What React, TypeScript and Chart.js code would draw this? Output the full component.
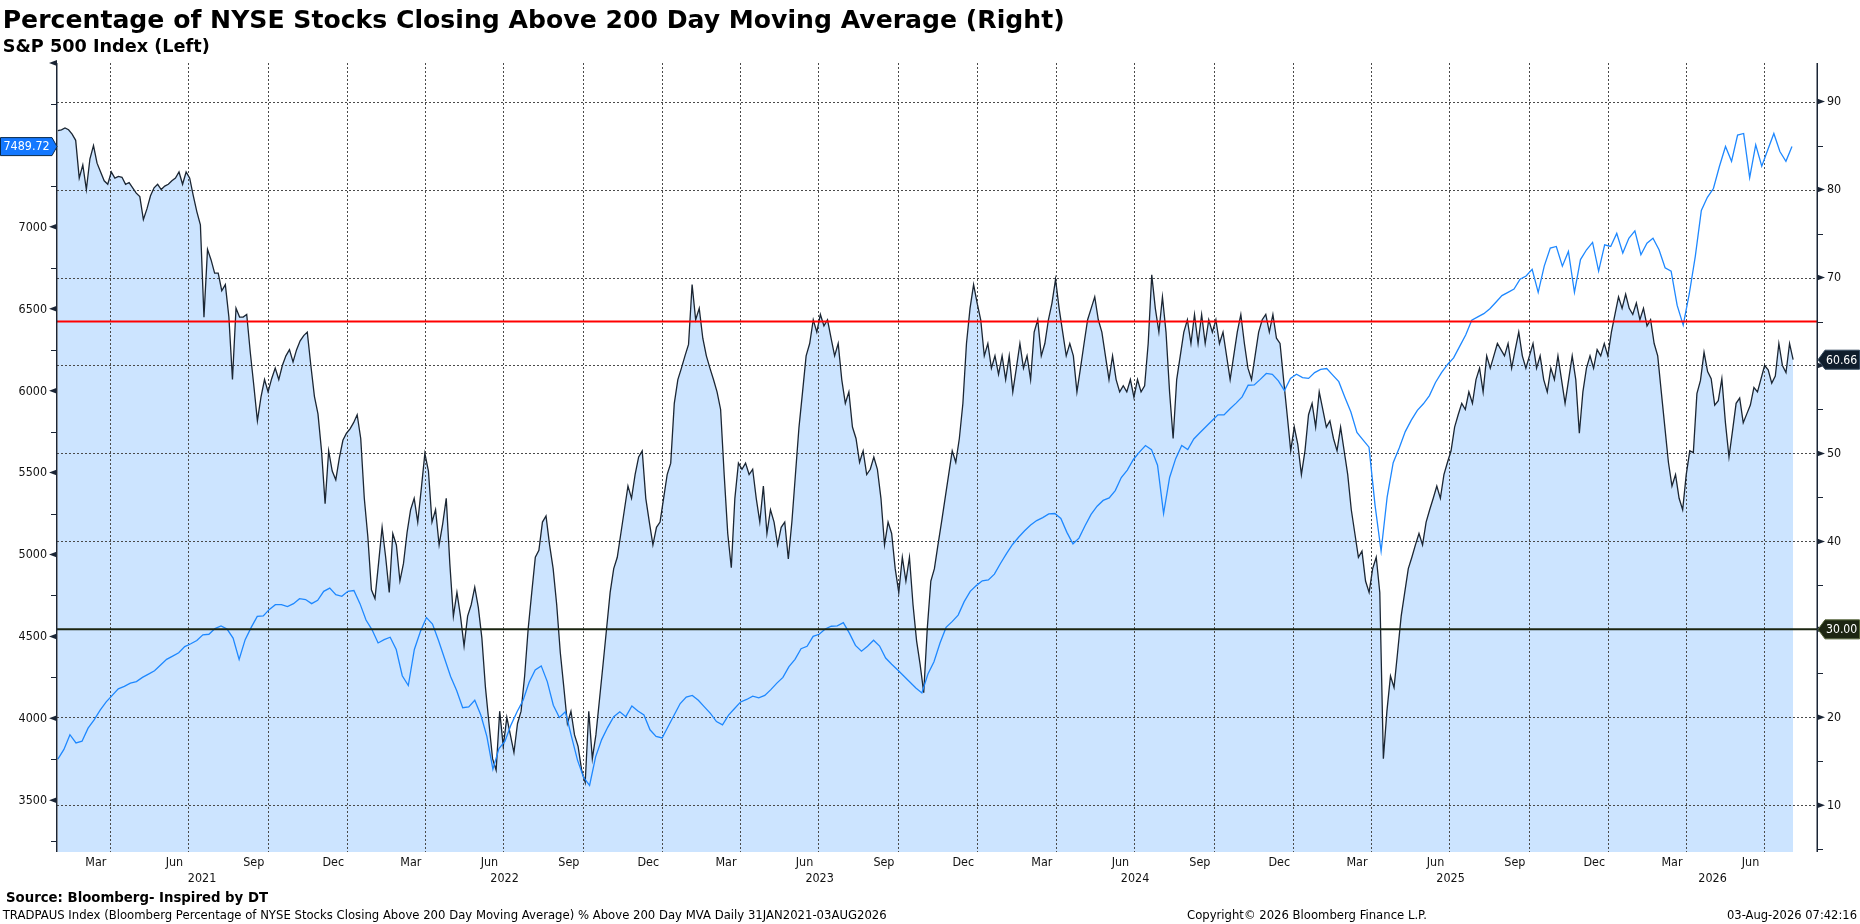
import React, { useEffect, useRef } from "react";
import { Chart, registerables } from "chart.js";

Chart.register(...registerables);

// ---------------- data ----------------
const SERIES_START = "2021-01-31";
const SPX_STEP_DAYS = 7;
const NYSE_STEP_DAYS = 4.128;
const AXIS_START = "2021-01-30";
const AXIS_END = "2026-08-31";

// Percentage of NYSE stocks closing above 200 DMA (right axis), sampled every ~4 days
const nyseAbove200 = [
  86.7, 86.8, 87, 86.8, 86.3, 85.6, 81.3, 82.8, 80, 83.5,
  85, 83, 82, 81, 80.6, 82, 81.3, 81.5, 81.4, 80.6,
  80.8, 80.2, 79.6, 79.2, 76.6, 77.8, 79.3, 80.2, 80.6, 80,
  80.4, 80.6, 81, 81.3, 82, 80.6, 82, 81.3, 79.3, 77.5,
  76, 65.5, 73.2, 72, 70.5, 70.5, 68.5, 69.2, 65.5, 58.4,
  66.5, 65.5, 65.5, 65.8, 61.5, 57.7, 53.7, 56.4, 58.4, 57,
  58.5, 59.7, 58.4, 60, 61.1, 61.8, 60.4, 61.8, 62.8, 63.4,
  63.8, 60, 56.5, 54.5, 50.3, 44.3, 50.3, 48, 47, 49.5,
  51.5, 52.3, 52.8, 53.5, 54.4, 51.7, 44.9, 40.5, 34.5, 33.5,
  37.5, 41.6, 38.2, 34.2, 40.9, 39.6, 35.5, 37.5, 41, 43.6,
  44.9, 42.2, 46, 50, 48, 42.2, 43.6, 39.6, 42, 44.9,
  37.5, 31.5, 34.2, 31.5, 28.1, 31.5, 32.8, 34.8, 32.5, 29,
  23.4, 19.3, 15.3, 14, 20.7, 16.7, 20, 18, 16, 19.3,
  20.7, 24.7, 30.1, 34.2, 38.2, 39, 42.2, 42.9, 39.6, 36.9,
  32.8, 27.4, 23.4, 19.3, 20.7, 18, 16.7, 14, 12.6, 20.7,
  15.3, 18, 22, 26, 30.1, 34.2, 36.9, 38.2, 40.9,
  43.6, 46.3, 44.9, 47.6, 49.6, 50.3, 44.9, 42.2, 39.6, 41.6,
  42.2, 44.9, 47.6, 48.9, 55.7, 58.4, 59.7, 61.1, 62.4, 69.2,
  65.2, 66.5, 63.1, 61.1, 59.7, 58.4, 57, 55, 47.6, 40.9,
  37, 44.9, 48.9, 48.2, 48.9, 47.6, 48.2, 44.9, 42.2, 46.3,
  40.9, 43.6, 42.2, 39.6, 41.6, 42.2, 38, 42.2, 47.6, 53,
  57, 61.1, 62.5, 65.2, 63.8, 65.8, 64.5, 65.2, 63.1, 61.1,
  62.5, 58.4, 55.7, 57, 53, 51.7, 49, 50.3, 47.6, 48.2,
  49.6, 48.2, 44.9, 39.6, 42.2, 40.9, 36.9, 34.2, 38.2, 35.5,
  38.2, 32.8, 28.7, 26, 22.8, 30.1, 35.5, 36.9, 39.6, 42.2,
  44.9, 47.6, 50.3, 49, 51.7, 55.7, 62.5, 66.5, 69.2, 67.1,
  65.2, 61.1, 62.5, 59.7, 61.1, 59, 61.1, 58.4, 61.1, 57,
  59.7, 62.5, 59.7, 61.1, 58.4, 63.8, 65.2, 61.1, 62.5, 65.2,
  67.1, 69.8, 66.5, 63.8, 61.1, 62.5, 61.1, 57, 59.7, 62.5,
  65.2, 66.5, 67.8, 65.2, 63.8, 61.1, 58.4, 61.1, 58.4, 57,
  57.7, 57, 58.4, 56.4, 58.4, 57, 57.7, 62.5, 70.3, 66.5,
  63.8, 67.8, 63.8, 57, 51.7, 58.4, 61.1, 63.8, 65.2, 62.5,
  65.8, 62.5, 65.8, 62.5, 65.2, 63.8, 65.2, 62.5, 63.8, 61.1,
  58.4, 61.1, 63.8, 65.8, 62.5, 59.7, 58.4, 61.1, 63.8, 65.2,
  65.8, 63.8, 65.8, 63.1, 62.5, 58.4, 54.4, 50.3, 53, 51,
  47.6, 50.3, 54.4, 55.7, 53, 57, 55, 53, 53.7, 51.7,
  50.3, 53, 50.3, 47.6, 43.6, 40.9, 38.2, 38.9, 35.5, 34.2,
  36.9, 38.2, 34.2, 15.3, 20.7, 24.7, 23.4, 27.4, 31.5, 34.2, 36.9,
  38.2, 39.6, 40.9, 39.6, 42.2, 43.6, 44.9, 46.3, 44.9, 47.6,
  49, 50.3, 53, 54.4, 55.7, 55, 57, 55.7, 58.4, 59.7,
  57, 61.1, 59.7, 61.1, 62.5, 61.8, 61.1, 62.5, 59.7, 61.8,
  63.8, 61.1, 59.7, 61.1, 62.5, 59.7, 61.1, 58.4, 57, 59.7,
  58.4, 61.1, 58.4, 55.7, 58.4, 61.1, 58.4, 52.3, 57, 59.7,
  61.1, 59.7, 61.8, 61.1, 62.5, 61.1, 63.8, 65.8, 67.8, 66.5,
  68.1, 66.5, 65.8, 67.1, 65.2, 66.5, 64.5, 65.2, 62.5, 61.1,
  57, 53, 49, 46.3, 47.6, 44.9, 43.6, 47.6, 50.3, 50.1,
  56.8, 58.3, 61.5, 59.3, 58.5, 55.5, 56, 58.5, 53.5, 49.6,
  52.6, 55.7, 56.3, 53.5, 54.5, 55.5, 57.5, 57, 58.5, 60,
  59.5, 58, 58.8, 62.5, 60, 59.2, 62.5, 60.66,
];

// S&P 500 Index (left axis), weekly
const spx = [
  3751, 3810, 3900, 3850, 3860, 3940, 3990, 4050, 4100, 4140,
  4180, 4195, 4215, 4224, 4250, 4270, 4290, 4325, 4360, 4380,
  4400, 4438, 4455, 4475, 4510, 4513, 4548, 4564, 4545, 4490,
  4360, 4480, 4555, 4622, 4625, 4665, 4694, 4694, 4682, 4700,
  4730, 4725, 4700, 4720, 4775, 4795, 4755, 4745, 4775, 4780,
  4700, 4600, 4540, 4460, 4480, 4495, 4420, 4260, 4200, 4420,
  4530, 4615, 4575, 4475, 4365, 4255, 4170, 4065, 4070, 4110,
  4020, 3890, 3690, 3815, 3860, 3960, 4040, 4110, 4220, 4295,
  4320, 4224, 4080, 4005, 4040, 3890, 3745, 3640, 3590, 3765,
  3870, 3945, 4010, 4040, 4010, 4075, 4045, 4020, 3930, 3890,
  3880, 3950, 4020, 4090, 4130, 4140, 4110, 4070, 4030, 3980,
  3960, 4020, 4060, 4100, 4115, 4135, 4125, 4140, 4175, 4215,
  4250, 4315, 4360, 4425, 4440, 4500, 4513, 4545, 4562, 4564,
  4584, 4520, 4445, 4410, 4440, 4477, 4441, 4368, 4330, 4295,
  4258, 4222, 4185, 4155, 4270, 4345, 4460, 4555, 4590, 4630,
  4712, 4775, 4810, 4839, 4845, 4880, 4945, 5005, 5061, 5105,
  5145, 5180, 5207, 5225, 5248, 5250, 5220, 5135, 5065, 5100,
  5175, 5245, 5295, 5330, 5345, 5390, 5470, 5515, 5580, 5625,
  5665, 5640, 5545, 5250, 5470, 5585, 5665, 5640, 5705, 5743,
  5780, 5816, 5852, 5852, 5890, 5924, 5962, 6033, 6035, 6069,
  6105, 6100, 6060, 6000, 6075, 6100, 6080, 6075, 6110, 6130,
  6135, 6095, 6055, 5960, 5870, 5745, 5700, 5655, 5300, 5020,
  5350, 5560, 5650, 5750, 5820, 5880, 5920, 5970, 6050, 6110,
  6160, 6200, 6270, 6340, 6430, 6450, 6470, 6500, 6540, 6580,
  6600, 6620, 6680, 6700, 6740, 6600, 6760, 6870, 6880, 6760,
  6850, 6600, 6800, 6860, 6905, 6730, 6890, 6880, 6960, 6840,
  6930, 6975, 6830, 6900, 6930, 6860, 6750, 6730, 6520, 6400,
  6590, 6820, 7100, 7180, 7234, 7370, 7490, 7400, 7560, 7570,
  7300, 7500, 7370, 7470, 7570, 7460, 7400, 7489.72,
];

const quarterGridDates = [
  "2021-04-01", "2021-07-01", "2021-10-01",
  "2022-01-01", "2022-04-01", "2022-07-01", "2022-10-01",
  "2023-01-01", "2023-04-01", "2023-07-01", "2023-10-01",
  "2024-01-01", "2024-04-01", "2024-07-01", "2024-10-01",
  "2025-01-01", "2025-04-01", "2025-07-01", "2025-10-01",
  "2026-01-01", "2026-04-01", "2026-07-01",
];
const monthTickLabels = [
  "Mar", "Jun", "Sep", "Dec",
  "Mar", "Jun", "Sep", "Dec",
  "Mar", "Jun", "Sep", "Dec",
  "Mar", "Jun", "Sep", "Dec",
  "Mar", "Jun", "Sep", "Dec",
  "Mar", "Jun",
];
const monthTickDates = [
  "2021-03-16", "2021-06-15", "2021-09-15", "2021-12-16",
  "2022-03-16", "2022-06-15", "2022-09-15", "2022-12-16",
  "2023-03-16", "2023-06-15", "2023-09-15", "2023-12-16",
  "2024-03-16", "2024-06-15", "2024-09-15", "2024-12-16",
  "2025-03-16", "2025-06-15", "2025-09-15", "2025-12-16",
  "2026-03-16", "2026-06-15",
];
const yearTickLabels = ["2021", "2022", "2023", "2024", "2025", "2026"];

const leftTicks = [3500, 4000, 4500, 5000, 5500, 6000, 6500, 7000, 8000];
const leftMinorTicks = [3250, 3750, 4250, 4750, 5250, 5750, 6250, 6750, 7250, 7750];
const rightTicks = [10, 20, 30, 40, 50, 60, 70, 80, 90];
const rightMinorTicks = [5, 15, 25, 35, 45, 55, 65, 75, 85];
const LEFT_MIN = 3184;
const LEFT_MAX = 8000;
const RIGHT_MIN = 4.69;
const RIGHT_MAX = 94.39;
const UPPER_LEVEL = 65;
const LOWER_LEVEL = 30;

const TITLE = "Percentage of NYSE Stocks Closing Above 200 Day Moving Average (Right)";
const SUBTITLE = "S&P 500 Index (Left)";
const SOURCE = "Source: Bloomberg- Inspired by DT";
const FOOTNOTE =
  "TRADPAUS Index (Bloomberg Percentage of NYSE Stocks Closing Above 200 Day Moving Average) % Above 200 Day MVA Daily 31JAN2021-03AUG2026";
const COPYRIGHT = "Copyright\u00A9 2026 Bloomberg Finance L.P.";
const TIMESTAMP = "03-Aug-2026 07:42:16";

// ---------------- helpers ----------------
const DAY_MS = 86400000;
const dayOf = (s: string) =>
  (Date.parse(s + "T00:00:00Z") - Date.parse(SERIES_START + "T00:00:00Z")) / DAY_MS;

const FONT = '"DejaVu Sans", Verdana, sans-serif';
const CONDENSE = 0.86;

function drawText(
  ctx: CanvasRenderingContext2D,
  s: string,
  x: number,
  y: number,
  o: { font: string; color?: string; align?: "left" | "right" | "center"; baseline?: CanvasTextBaseline; sx?: number; fit?: number }
) {
  ctx.save();
  ctx.font = o.font;
  ctx.fillStyle = o.color || "#111";
  ctx.textBaseline = o.baseline || "alphabetic";
  ctx.textAlign = "left";
  const w = ctx.measureText(s).width;
  const sx = o.fit ? o.fit / w : o.sx ?? 1;
  const align = o.align || "left";
  const x0 = align === "left" ? x : align === "right" ? x - w * sx : x - (w * sx) / 2;
  ctx.translate(x0, y);
  ctx.scale(sx, 1);
  ctx.fillText(s, 0, 0);
  ctx.restore();
}

const bbgPlugin = {
  id: "bbgDecor",
  beforeDatasetsDraw(chart: any) {
    const ctx: CanvasRenderingContext2D = chart.ctx;
    const { left, right, top, bottom } = chart.chartArea;
    const xs = chart.scales.x;
    const yr = chart.scales.y1;
    ctx.save();
    ctx.strokeStyle = "#4a4a4a";
    ctx.lineWidth = 1;
    ctx.setLineDash([2, 2]);
    quarterGridDates.forEach((d) => {
      const px = Math.round(xs.getPixelForValue(dayOf(d))) + 0.5;
      ctx.beginPath();
      ctx.moveTo(px, top);
      ctx.lineTo(px, bottom);
      ctx.stroke();
    });
    rightTicks.forEach((v) => {
      const py = Math.round(yr.getPixelForValue(v)) + 0.5;
      ctx.beginPath();
      ctx.moveTo(left, py);
      ctx.lineTo(right, py);
      ctx.stroke();
    });
    ctx.restore();
  },
  afterDatasetsDraw(chart: any) {
    const ctx: CanvasRenderingContext2D = chart.ctx;
    const { left, right } = chart.chartArea;
    const yr = chart.scales.y1;
    ctx.save();
    ctx.lineWidth = 2;
    ctx.strokeStyle = "#ff0000";
    let py = yr.getPixelForValue(UPPER_LEVEL);
    ctx.beginPath();
    ctx.moveTo(left, py);
    ctx.lineTo(right, py);
    ctx.stroke();
    ctx.strokeStyle = "#1b2410";
    py = yr.getPixelForValue(LOWER_LEVEL);
    ctx.beginPath();
    ctx.moveTo(left, py);
    ctx.lineTo(right, py);
    ctx.stroke();
    ctx.restore();
  },
  afterDraw(chart: any) {
    const ctx: CanvasRenderingContext2D = chart.ctx;
    const { left, right, top, bottom } = chart.chartArea;
    const xs = chart.scales.x;
    const yl = chart.scales.y;
    const yr = chart.scales.y1;
    const tickFont = `13px ${FONT}`;

    // axis lines
    ctx.save();
    ctx.strokeStyle = "#1b2535";
    ctx.lineWidth = 1.5;
    ctx.beginPath();
    ctx.moveTo(left - 0.25, top);
    ctx.lineTo(left - 0.25, bottom);
    ctx.moveTo(right + 0.25, top);
    ctx.lineTo(right + 0.25, bottom);
    ctx.stroke();

    // left ticks
    ctx.fillStyle = "#1b2535";
    ctx.lineWidth = 1;
    leftMinorTicks.forEach((v) => {
      const py = Math.round(yl.getPixelForValue(v)) + 0.5;
      ctx.beginPath();
      ctx.moveTo(left - 6, py);
      ctx.lineTo(left, py);
      ctx.stroke();
    });
    leftTicks.forEach((v) => {
      const py = yl.getPixelForValue(v);
      ctx.beginPath();
      ctx.moveTo(left - 8, py);
      ctx.lineTo(left, py - 3);
      ctx.lineTo(left, py + 3);
      ctx.closePath();
      ctx.fill();
      if (py > top + 5) {
        drawText(ctx, String(v), left - 10, py + 0.5, { font: tickFont, align: "right", baseline: "middle", sx: CONDENSE, color: "#111" });
      }
    });
    // right ticks
    rightMinorTicks.forEach((v) => {
      const py = Math.round(yr.getPixelForValue(v)) + 0.5;
      ctx.beginPath();
      ctx.moveTo(right, py);
      ctx.lineTo(right + 6, py);
      ctx.stroke();
    });
    rightTicks.forEach((v) => {
      const py = yr.getPixelForValue(v);
      ctx.beginPath();
      ctx.moveTo(right + 8, py);
      ctx.lineTo(right, py - 3);
      ctx.lineTo(right, py + 3);
      ctx.closePath();
      ctx.fill();
      drawText(ctx, String(v), right + 10, py + 0.5, { font: tickFont, align: "left", baseline: "middle", sx: CONDENSE, color: "#111" });
    });
    ctx.restore();

    // x labels
    monthTickLabels.forEach((lab, i) => {
      const px = xs.getPixelForValue(dayOf(monthTickDates[i]));
      drawText(ctx, lab, px, 863, { font: tickFont, align: "center", baseline: "middle", sx: CONDENSE });
    });
    const xmin = xs.min;
    const xmax = xs.max;
    yearTickLabels.forEach((lab) => {
      const y = Number(lab);
      const s = Math.max(dayOf(`${y}-01-01`), xmin);
      const e = Math.min(dayOf(`${y + 1}-01-01`), xmax);
      const px = xs.getPixelForValue((s + e) / 2);
      drawText(ctx, lab, px, 878.5, { font: tickFont, align: "center", baseline: "middle", sx: CONDENSE });
    });

    // value tags
    const lastSpx = spx[spx.length - 1];
    const lastNyse = nyseAbove200[nyseAbove200.length - 1];
    ctx.save();
    const cy = yl.getPixelForValue(lastSpx);
    ctx.beginPath();
    ctx.moveTo(0.5, cy - 9);
    ctx.lineTo(left - 5, cy - 9);
    ctx.lineTo(left, cy);
    ctx.lineTo(left - 5, cy + 9);
    ctx.lineTo(0.5, cy + 9);
    ctx.closePath();
    ctx.fillStyle = "#1478ff";
    ctx.fill();
    ctx.strokeStyle = "#0b2a4a";
    ctx.lineWidth = 1;
    ctx.stroke();
    drawText(ctx, lastSpx.toFixed(2), 3.5, cy + 0.5, { font: tickFont, baseline: "middle", sx: CONDENSE, color: "#ffffff" });

    const tag = (val: number, fill: string, stroke: string) => {
      const ty = yr.getPixelForValue(val);
      ctx.beginPath();
      ctx.moveTo(right + 1, ty);
      ctx.lineTo(right + 8, ty - 9.5);
      ctx.lineTo(1859.5, ty - 9.5);
      ctx.lineTo(1859.5, ty + 9.5);
      ctx.lineTo(right + 8, ty + 9.5);
      ctx.closePath();
      ctx.fillStyle = fill;
      ctx.fill();
      ctx.strokeStyle = stroke;
      ctx.lineWidth = 1;
      ctx.stroke();
      drawText(ctx, val.toFixed(2), right + 9, ty + 0.5, { font: tickFont, baseline: "middle", sx: 0.84, color: "#ffffff" });
    };
    tag(lastNyse, "#0f1d2c", "#34495e");
    tag(LOWER_LEVEL, "#1d2612", "#56663a");
    ctx.restore();

    // titles and footers
    drawText(ctx, TITLE, 2.7, 28.3, { font: `bold 25px ${FONT}`, fit: 1062, color: "#000" });
    drawText(ctx, SUBTITLE, 2.7, 51.7, { font: `bold 17px ${FONT}`, fit: 207, color: "#000" });
    drawText(ctx, SOURCE, 6, 901.5, { font: `bold 13.5px ${FONT}`, fit: 262, color: "#000" });
    drawText(ctx, FOOTNOTE, 2.7, 919, { font: `12px ${FONT}`, fit: 884, color: "#000" });
    drawText(ctx, COPYRIGHT, 1187, 919, { font: `12px ${FONT}`, fit: 240, color: "#000" });
    drawText(ctx, TIMESTAMP, 1857, 919, { font: `12px ${FONT}`, fit: 130, align: "right", color: "#000" });
  },
};

export default function App() {
  const canvasRef = useRef<HTMLCanvasElement | null>(null);

  useEffect(() => {
    const canvas = canvasRef.current;
    if (!canvas) return;
    const chart = new Chart(canvas, {
      type: "line",
      data: {
        datasets: [
          {
            label: "S&P 500 Index",
            data: spx.map((v, i) => ({ x: i * SPX_STEP_DAYS, y: v })),
            yAxisID: "y",
            borderColor: "#1e88ff",
            borderWidth: 1.3,
            pointRadius: 0,
            fill: false,
            tension: 0,
            order: 0,
          },
          {
            label: "% NYSE above 200 DMA",
            data: nyseAbove200.map((v, i) => ({ x: i * NYSE_STEP_DAYS, y: v })),
            yAxisID: "y1",
            borderColor: "#1b2633",
            borderWidth: 1.3,
            pointRadius: 0,
            fill: "start",
            backgroundColor: "#cce4ff",
            tension: 0,
            order: 1,
          },
        ],
      },
      options: {
        animation: false,
        responsive: false,
        maintainAspectRatio: false,
        devicePixelRatio: 1,
        events: [],
        layout: { padding: { left: 57, right: 43, top: 63, bottom: 72 } },
        plugins: {
          legend: { display: false },
          tooltip: { enabled: false },
          filler: { drawTime: "beforeDatasetsDraw" },
        } as any,
        scales: {
          x: { type: "linear", display: false, min: dayOf(AXIS_START), max: dayOf(AXIS_END) },
          y: { type: "linear", display: false, position: "left", min: LEFT_MIN, max: LEFT_MAX },
          y1: { type: "linear", display: false, position: "right", min: RIGHT_MIN, max: RIGHT_MAX },
        },
      },
      plugins: [bbgPlugin as any],
    });
    return () => chart.destroy();
  }, []);

  return (
    <div style={{ position: "absolute", left: 0, top: 0, width: 1860, height: 924, background: "#ffffff" }}>
      <canvas ref={canvasRef} width={1860} height={924} style={{ width: 1860, height: 924, display: "block" }} />
    </div>
  );
}
